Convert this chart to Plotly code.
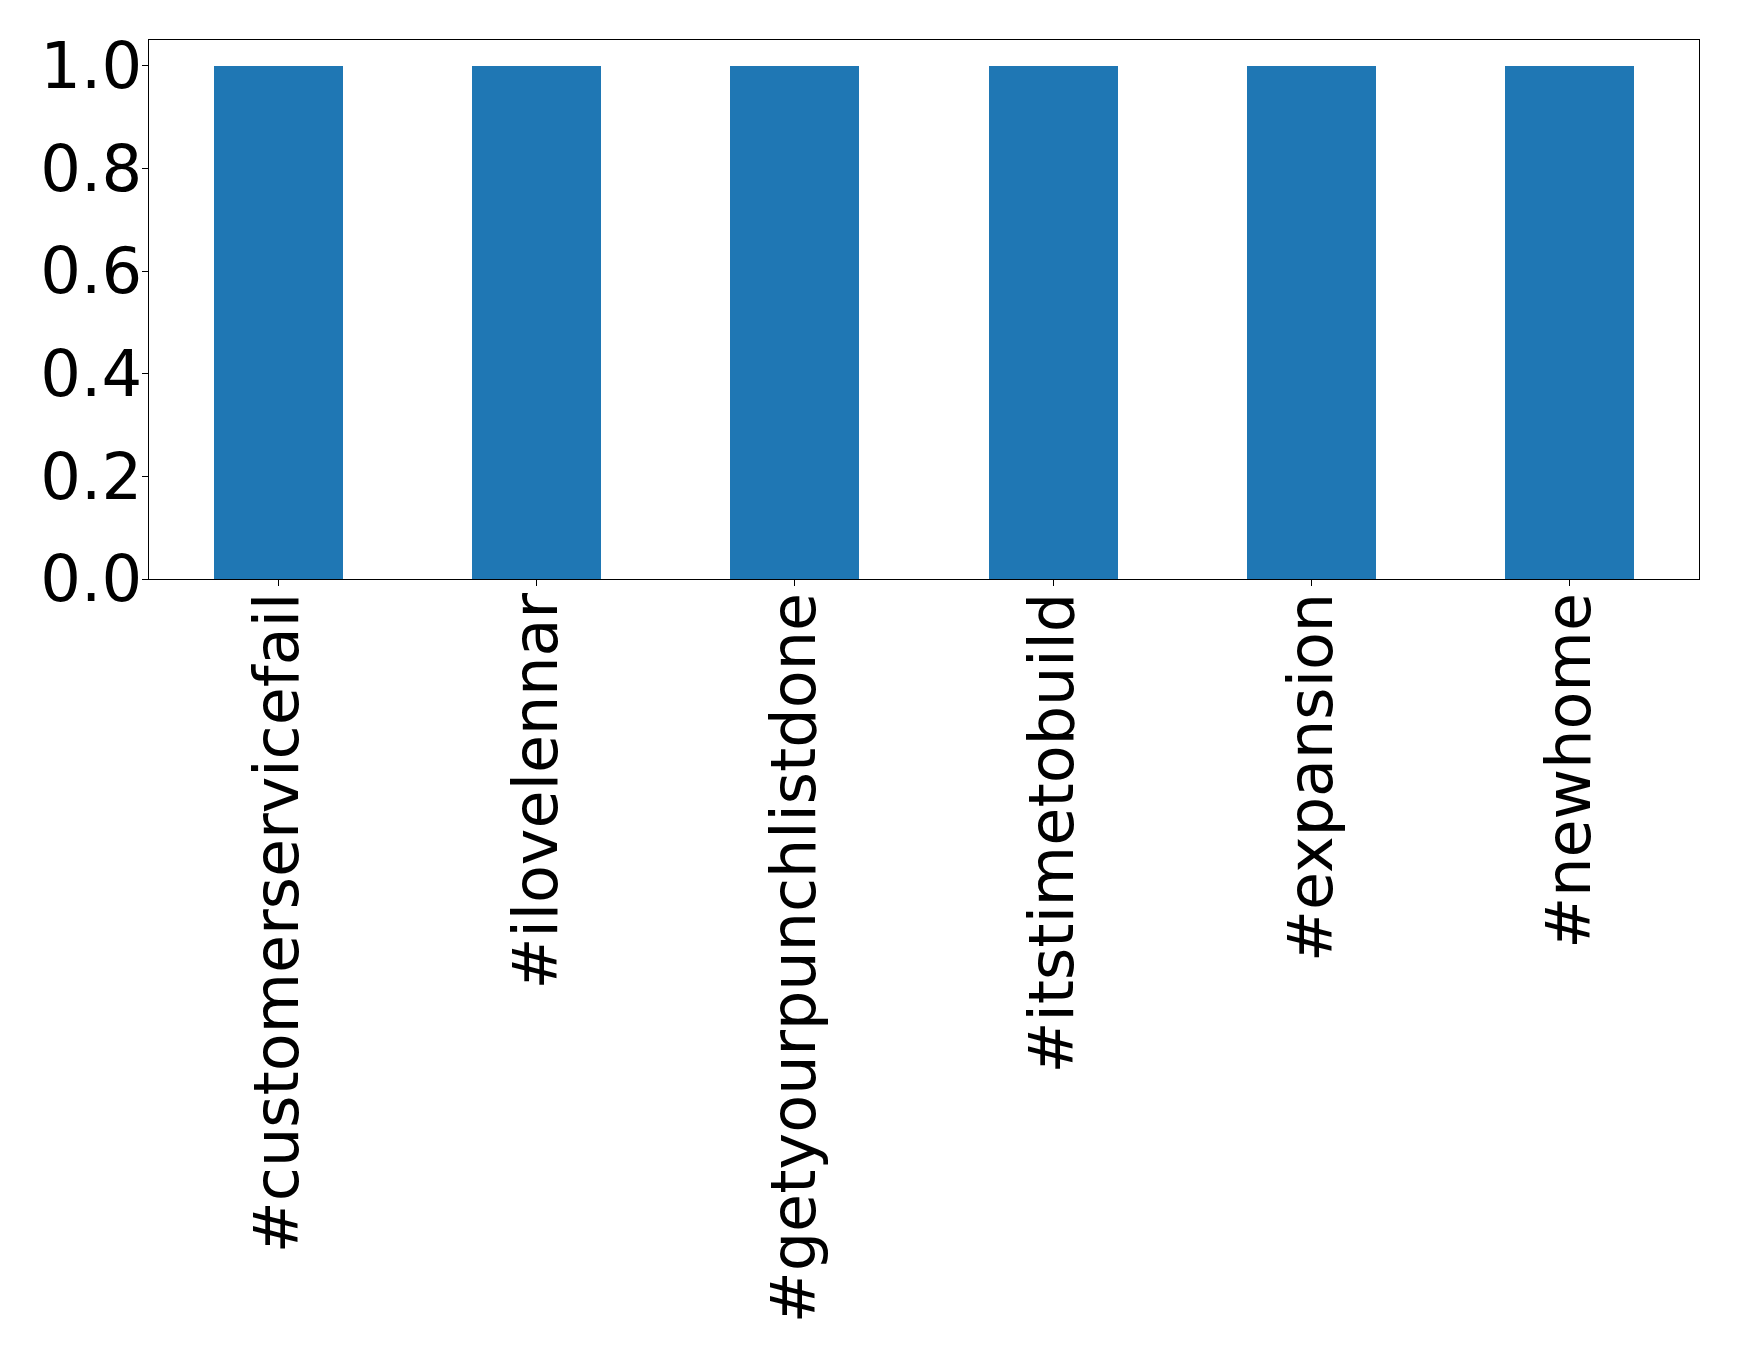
import plotly.graph_objects as go

categories = ["#customerservicefail", "#ilovelennar", "#getyourpunchlistdone",
              "#itstimetobuild", "#expansion", "#newhome"]
values = [1, 1, 1, 1, 1, 1]
ytick_vals = [0.0, 0.2, 0.4, 0.6, 0.8, 1.0]

fig = go.Figure(go.Bar(x=list(range(len(categories))), y=values, width=0.5,
                       marker=dict(color="#1f77b4", line=dict(width=0))))

xfont = dict(family="DejaVu Sans", size=62, color="black")
yfont = dict(family="DejaVu Sans", size=64, color="black")
fig.update_layout(
    width=1739, height=1364,
    margin=dict(l=141, r=48, t=32, b=793),
    paper_bgcolor="white", plot_bgcolor="white",
    showlegend=False, bargap=0,
)
fig.update_xaxes(
    range=[-0.5, 5.5], tickmode="array",
    tickvals=list(range(len(categories))), ticktext=categories,
    tickangle=-90, tickfont=xfont, ticks="outside", ticklen=6, tickwidth=1.2,
    tickcolor="black", showline=True, linecolor="black", linewidth=1.2,
    mirror=True, showgrid=False, zeroline=False, ticklabelstandoff=-18,
)
fig.update_yaxes(
    range=[0, 1.05], tickmode="array", tickvals=ytick_vals,
    ticktext=[f"{v:.1f}" for v in ytick_vals],
    tickfont=yfont, ticks="outside", ticklen=6, tickwidth=1.2,
    tickcolor="black", showline=True, linecolor="black", linewidth=1.2,
    mirror=True, showgrid=False, zeroline=False, ticklabelstandoff=-13,
)
fig.write_html("out.html")
